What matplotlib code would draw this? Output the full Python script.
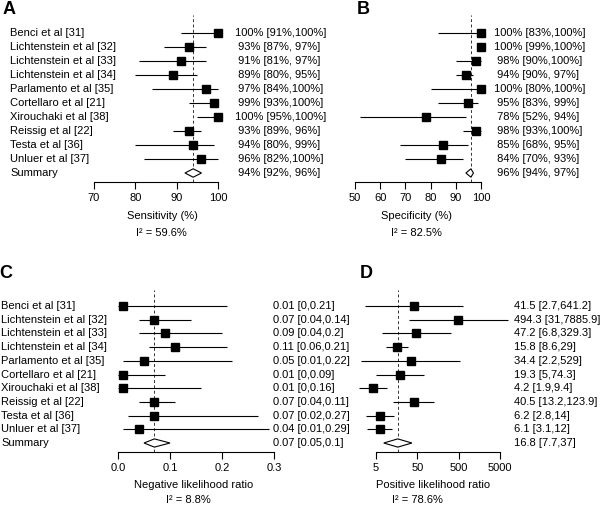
import matplotlib
matplotlib.use('Agg')
import matplotlib.pyplot as plt
from matplotlib.transforms import blended_transform_factory
from matplotlib.patches import Polygon

plt.rcParams['font.family'] = ['Liberation Sans', 'DejaVu Sans']

# ---------------- data ----------------
studies = ["Benci et al [31]", "Lichtenstein et al [32]", "Lichtenstein et al [33]",
           "Lichtenstein et al [34]", "Parlamento et al [35]", "Cortellaro et al [21]",
           "Xirouchaki et al [38]", "Reissig et al [22]", "Testa et al [36]",
           "Unluer et al [37]", "Summary"]

sens_est = [100, 93, 91, 89, 97, 99, 100, 93, 94, 96, 94]
sens_lo = [91, 87, 81, 80, 84, 93, 95, 89, 80, 82, 92]
sens_hi = [100, 97, 97, 95, 100, 100, 100, 96, 99, 100, 96]

spec_est = [100, 100, 98, 94, 100, 95, 78, 98, 85, 84, 96]
spec_lo = [83, 99, 90, 90, 80, 83, 52, 93, 68, 70, 94]
spec_hi = [100, 100, 100, 97, 100, 99, 94, 100, 95, 93, 97]

nlr_est = [0.01, 0.07, 0.09, 0.11, 0.05, 0.01, 0.01, 0.07, 0.07, 0.04, 0.07]
nlr_lo = [0, 0.04, 0.04, 0.06, 0.01, 0, 0, 0.04, 0.02, 0.01, 0.05]
nlr_hi = [0.21, 0.14, 0.2, 0.21, 0.22, 0.09, 0.16, 0.11, 0.27, 0.29, 0.1]

plr_est = [41.5, 494.3, 47.2, 15.8, 34.4, 19.3, 4.2, 40.5, 6.2, 6.1, 16.8]
plr_lo = [2.7, 31, 6.8, 8.6, 2.2, 5, 1.9, 13.2, 2.8, 3.1, 7.7]
plr_hi = [641.2, 7885.9, 329.3, 29, 529, 74.3, 9.4, 123.9, 14, 12, 37]

sens_ticks = [70, 80, 90, 100]
spec_ticks = [50, 60, 70, 80, 90, 100]
nlr_ticks = [0.0, 0.1, 0.2, 0.3]
plr_ticks = [5, 50, 500, 5000]

i2_values = ["59.6%", "82.5%", "8.8%", "78.6%"]

# ---------------- layout ----------------
W, H = 600, 509
fig = plt.figure(figsize=(W / 100, H / 100), dpi=100)
FS = 8


def pct(e, l, h):
    return "%3d%% [%2d%%,%3d%%]" % (e, l, h)


def num(e, l, h):
    return "%g [%g,%g]" % (e, l, h)


def panel(x0, x1, ytop, yaxis, row0, rowN, xlim, ticks, ticklabels,
          est, lo, hi, fmt, text_x, label_x, letter, letter_xy, xlabel,
          xlabel_xy, i2, i2_xy, log=False):
    n = len(est)
    sp = (rowN - row0) / (n - 1)
    ax = fig.add_axes([x0 / W, 1 - yaxis / H, (x1 - x0) / W, (yaxis - ytop) / H])
    ax.patch.set_alpha(0)
    if log:
        ax.set_xscale('log')
    ax.set_xlim(xlim)
    ax.set_ylim((yaxis - row0) / sp, (ytop - row0) / sp)
    for s in ['top', 'left', 'right']:
        ax.spines[s].set_visible(False)
    ax.spines['bottom'].set_linewidth(0.8)
    ax.set_yticks([])
    ax.set_xticks(ticks)
    ax.set_xticklabels(ticklabels)
    ax.minorticks_off()
    ax.tick_params(axis='x', direction='out', length=5, width=0.8, pad=3,
                   labelsize=FS)
    # dashed summary line
    ax.axvline(est[-1], color='#333333', lw=0.7, ls=(0, (3, 2.5)), zorder=1)
    for i in range(n - 1):
        ax.plot([lo[i], hi[i]], [i, i], color='black', lw=0.8, clip_on=False,
                solid_capstyle='butt', zorder=2)
        ax.plot([est[i]], [i], marker='s', ms=5.8, color='black', mec='black',
                clip_on=False, zorder=3)
    r = n - 1
    dia = Polygon([(lo[r], r), (est[r], r - 0.3), (hi[r], r), (est[r], r + 0.3)],
                  closed=True, facecolor='white', edgecolor='black', lw=0.8,
                  zorder=4, clip_on=False)
    ax.add_patch(dia)
    tr = blended_transform_factory(fig.transFigure, ax.transData)
    for i in range(n):
        ax.text(text_x / W, i, fmt(est[i], lo[i], hi[i]), transform=tr,
                ha='left', va='center', fontsize=FS)
        if label_x is not None:
            ax.text(label_x / W, i, studies[i], transform=tr, ha='left',
                    va='center', fontsize=FS)
    fig.text(letter_xy[0] / W, 1 - letter_xy[1] / H, letter, fontsize=13,
             fontweight='bold', ha='center', va='center')
    fig.text(xlabel_xy[0] / W, 1 - xlabel_xy[1] / H, xlabel, fontsize=FS,
             ha='center', va='center')
    fig.text(i2_xy[0] / W, 1 - i2_xy[1] / H, "I\u00b2 = " + i2, fontsize=FS,
             ha='center', va='center')
    return ax


panel(94, 218, 15, 182, 33, 173, (70, 100), sens_ticks,
      [str(t) for t in sens_ticks], sens_est, sens_lo, sens_hi, pct,
      235, 10, "A", (9, 9), "Sensitivity (%)", (162, 216), i2_values[0], (161, 233))

panel(355, 481, 15, 182, 33, 173, (50, 100), spec_ticks,
      [str(t) for t in spec_ticks], spec_est, spec_lo, spec_hi, pct,
      494, None, "B", (363, 9), "Specificity (%)", (417, 216), i2_values[1], (416, 233))

panel(118, 274, 290, 452, 306, 443, (0, 0.3), nlr_ticks,
      ["%.1f" % t for t in nlr_ticks], nlr_est, nlr_lo, nlr_hi, num,
      273, 1, "C", (6, 273), "Negative likelihood ratio", (194, 485), i2_values[2], (188, 500))

panel(376, 500, 290, 452, 306, 443, (5, 5000), plr_ticks,
      [str(t) for t in plr_ticks], plr_est, plr_lo, plr_hi, num,
      514, None, "D", (366, 273), "Positive likelihood ratio", (433, 485), i2_values[3], (417, 500),
      log=True)

fig.savefig("out.png", dpi=100)
